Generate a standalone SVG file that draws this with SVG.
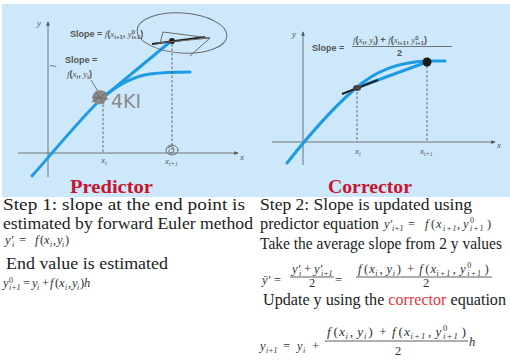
<svg xmlns="http://www.w3.org/2000/svg" width="510" height="363" viewBox="0 0 510 363">
<style>
.ax{stroke:#666;stroke-width:0.9;fill:none}
.cv{stroke:#1e9be2;stroke-width:3;fill:none;stroke-linecap:round}
.dash{stroke:#444;stroke-width:0.8;stroke-dasharray:2.5 2;fill:none}
.sk{stroke:#6a6a6a;stroke-width:1;fill:none;stroke-linecap:round;stroke-linejoin:round}
.gl{font-family:"Liberation Sans",Arial,sans-serif;font-size:9px;fill:#555;font-weight:bold}
.gi{font-family:"Liberation Serif",serif;font-style:italic;font-size:9px;fill:#555;font-weight:normal}
.gs{font-size:6px}
.tt{font-family:"Liberation Serif","Times New Roman",serif;font-size:17.5px;fill:#222}
.hd{font-family:"Liberation Serif","Times New Roman",serif;font-size:19px;font-weight:bold;fill:#c8142e}
.m{font-family:"Liberation Serif","Times New Roman",serif;font-style:italic;font-size:12.5px;fill:#333}
.r{font-style:normal}
.s{font-size:8px}
.fl{stroke:#333;stroke-width:0.8}
.hw{font-family:"DejaVu Sans",sans-serif;font-size:19px;fill:#8a8a8a}
</style>
<defs>
<marker id="ah" viewBox="0 0 6 6" refX="5" refY="3" markerWidth="5" markerHeight="5" orient="auto"><path d="M0,0.5 L6,3 L0,5.5 z" fill="#555"/></marker>
</defs>
<rect x="2" y="4" width="508" height="193" fill="#cde8fb"/>

<g id="predictor-graph">
<line class="ax" x1="48" y1="177" x2="48" y2="22" marker-end="url(#ah)"/>
<line class="ax" x1="18" y1="153" x2="238" y2="153" marker-end="url(#ah)"/>
<text class="gi" x="37" y="26">y</text>
<text class="gi" x="240" y="160">x</text>
<path class="cv" d="M32,176 C55,150 82,117 103,97 C118,85 135,76 150,74 C165,72 178,72 190,72"/>
<path class="cv" d="M100,100 L170,42"/>
<line class="dash" x1="103" y1="100" x2="103" y2="153"/>
<line class="dash" x1="172" y1="44" x2="172" y2="150"/>
<text class="gi" x="101" y="163">x<tspan class="gs" dy="1.5">i</tspan></text>
<text class="gi" x="165" y="164">x<tspan class="gs" dy="1.5">i+1</tspan></text>
<text class="gl" x="70" y="37">Slope = <tspan class="gi">f</tspan>(<tspan class="gi">x</tspan><tspan class="gs" dy="1.5">i+1</tspan><tspan dy="-1.5">, </tspan><tspan class="gi">y</tspan><tspan class="gs" dy="-3.5">0</tspan><tspan class="gs" dx="-3.5" dy="5">i+1</tspan><tspan dy="-1.5">)</tspan></text>
<text class="gl" x="65" y="63">Slope =</text>
<text class="gl" x="67" y="77"><tspan class="gi">f</tspan>(<tspan class="gi">x</tspan><tspan class="gs" dy="1.5">i</tspan><tspan dy="-1.5">, </tspan><tspan class="gi">y</tspan><tspan class="gs" dy="1.5">i</tspan><tspan dy="-1.5">)</tspan></text>
<line x1="91" y1="80" x2="99" y2="93" stroke="#555" stroke-width="0.8"/>
<line x1="152" y1="44" x2="205" y2="37" stroke="#222" stroke-width="2"/>
<circle cx="172" cy="41" r="3" fill="#222"/>
<path d="M95,92 C100,88 108,91 107,97 C106,104 99,106 95,103 C91,100 92,95 95,92 z" fill="#8a8a8a"/>
<path class="sk" d="M93,97 L108,99 M96,92 L104,104 M92,102 L106,93"/>
</g>

<g id="annotations" class="sk">
<ellipse cx="182" cy="33" rx="45" ry="20" transform="rotate(4 182 33)"/>
<path d="M160,43 L163,32 L210,38 L158,43 M210,38 L190,56"/>
<path d="M50,66 C52,64 54,68 56,66"/>
<ellipse cx="172" cy="150" rx="6" ry="5"/>
<path d="M168,148 C171,144 176,148 173,152 C170,155 167,151 170,149"/>
<text class="hw" x="111" y="108" stroke="none">4KI</text>
</g>

<g id="corrector-graph">
<line class="ax" x1="303" y1="165" x2="303" y2="32" marker-end="url(#ah)"/>
<line class="ax" x1="272" y1="142" x2="495" y2="142" marker-end="url(#ah)"/>
<text class="gi" x="292" y="37">y</text>
<text class="gi" x="497" y="148">x</text>
<path class="cv" d="M287,163 C310,134 335,106 356,88 C372,74 395,62 427,61 L445,61"/>
<path class="cv" d="M356,88 L427,62"/>
<line class="dash" x1="357" y1="92" x2="357" y2="142"/>
<line class="dash" x1="427" y1="66" x2="427" y2="142"/>
<text class="gi" x="355" y="154">x<tspan class="gs" dy="1.5">i</tspan></text>
<text class="gi" x="420" y="154">x<tspan class="gs" dy="1.5">i+1</tspan></text>
<line x1="342" y1="94" x2="378" y2="80" stroke="#222" stroke-width="2"/>
<ellipse cx="357" cy="88" rx="4" ry="3" fill="#444"/>
<circle cx="427" cy="62" r="4.5" fill="#1a1a1a"/>
<text class="gl" x="312" y="51" font-size="10" font-weight="normal">Slope =</text>
<text class="gl" x="353" y="43" font-size="8" font-weight="normal"><tspan class="gi" font-size="8">f</tspan>(<tspan class="gi" font-size="8">x</tspan><tspan class="gs" dy="1.5">i</tspan><tspan dy="-1.5">, </tspan><tspan class="gi" font-size="8">y</tspan><tspan class="gs" dy="1.5">i</tspan><tspan dy="-1.5">) + </tspan><tspan class="gi" font-size="8">f</tspan>(<tspan class="gi" font-size="8">x</tspan><tspan class="gs" dy="1.5">i+1</tspan><tspan dy="-1.5">, </tspan><tspan class="gi" font-size="8">y</tspan><tspan class="gs" dy="-3">0</tspan><tspan class="gs" dx="-3" dy="4.5">i+1</tspan><tspan dy="-1.5">)</tspan></text>
<line x1="352" y1="46.5" x2="452" y2="46.5" stroke="#555" stroke-width="0.8"/>
<text class="gl" x="397" y="56" font-weight="normal">2</text>
</g>

<g id="predictor-text">
<text class="hd" x="70" y="193" textLength="83" lengthAdjust="spacingAndGlyphs">Predictor</text>
<text class="tt" x="3" y="210" textLength="242" lengthAdjust="spacingAndGlyphs">Step 1: slope at the end point is</text>
<text class="tt" x="3" y="229" textLength="250" lengthAdjust="spacingAndGlyphs">estimated by forward Euler method</text>
<text class="m" font-size="11.5"><tspan x="5" y="244">y′</tspan><tspan class="s" x="12" y="247">i</tspan><tspan class="r" x="19" y="244">=</tspan><tspan x="35">f</tspan><tspan class="r" x="40">(</tspan><tspan x="44">x</tspan><tspan class="s" x="50" y="247">i</tspan><tspan class="r" x="53" y="244">,</tspan><tspan x="57">y</tspan><tspan class="s" x="62" y="247">i</tspan><tspan class="r" x="65" y="244">)</tspan></text>
<text class="tt" x="6" y="269" textLength="162" lengthAdjust="spacingAndGlyphs">End value is estimated</text>
<text class="m" font-size="11.5"><tspan x="3" y="287">y</tspan><tspan class="s r" x="9" y="283">0</tspan><tspan class="s" x="9" y="290">i+1</tspan><tspan class="r" x="23" y="287">=</tspan><tspan x="32">y</tspan><tspan class="s" x="37" y="290">i</tspan><tspan class="r" x="42" y="287">+</tspan><tspan x="50">f</tspan><tspan class="r" x="55">(</tspan><tspan x="59">x</tspan><tspan class="s" x="65" y="290">i</tspan><tspan class="r" x="68" y="287">,</tspan><tspan x="72">y</tspan><tspan class="s" x="77" y="290">i</tspan><tspan class="r" x="80" y="287">)</tspan><tspan x="84">h</tspan></text>
</g>

<g id="corrector-text">
<text class="hd" x="328" y="193" textLength="84" lengthAdjust="spacingAndGlyphs">Corrector</text>
<text class="tt" x="260" y="210" textLength="212" lengthAdjust="spacingAndGlyphs">Step 2: Slope is updated using</text>
<text class="tt" x="260" y="229" textLength="119" lengthAdjust="spacingAndGlyphs">predictor equation</text>
<text class="m"><tspan x="384" y="228">y′</tspan><tspan class="s" x="392" y="231">i+1</tspan><tspan class="r" x="408" y="228">=</tspan><tspan x="425">f</tspan><tspan class="r" x="431">(</tspan><tspan x="436">x</tspan><tspan class="s" x="443" y="231" letter-spacing="1">i+1</tspan><tspan class="r" x="457" y="228">,</tspan><tspan x="463">y</tspan><tspan class="s r" x="470" y="223">0</tspan><tspan class="s" x="470" y="231" letter-spacing="1">i+1</tspan><tspan class="r" x="487" y="228">)</tspan></text>
<text class="tt" x="260" y="249" font-size="16" textLength="242" lengthAdjust="spacingAndGlyphs">Take the average slope from 2 y values</text>

<text class="m"><tspan x="262" y="284">ȳ′</tspan><tspan class="r" x="274">=</tspan></text>
<text class="m"><tspan x="292" y="273">y′</tspan><tspan class="s" x="299" y="276">i</tspan><tspan class="r" x="304" y="273">+</tspan><tspan x="314">y′</tspan><tspan class="s" x="321" y="276">i+1</tspan></text>
<line class="fl" x1="290" y1="277" x2="334" y2="277"/>
<text class="m r" x="309" y="287">2</text>
<text class="m r" x="335" y="284">=</text>
<g transform="translate(358,273) scale(1.02,1)">
<text class="m"><tspan x="0" y="0">f</tspan><tspan class="r" x="6">(</tspan><tspan x="11">x</tspan><tspan class="s" x="17" y="3">i</tspan><tspan class="r" x="21" y="0">,</tspan><tspan x="28">y</tspan><tspan class="s" x="34" y="3">i</tspan><tspan class="r" x="38" y="0">)</tspan><tspan class="r" x="48">+</tspan><tspan x="60">f</tspan><tspan class="r" x="66">(</tspan><tspan x="71">x</tspan><tspan class="s" x="77" y="3" letter-spacing="1">i+1</tspan><tspan class="r" x="93" y="0">,</tspan><tspan x="100">y</tspan><tspan class="s r" x="107" y="-5">0</tspan><tspan class="s" x="107" y="3" letter-spacing="1">i+1</tspan><tspan class="r" x="124" y="0">)</tspan></text>
</g>
<line class="fl" x1="356" y1="277" x2="492" y2="277"/>
<text class="m r" x="423" y="287">2</text>

<text class="tt" x="263" y="305" font-size="16.5" textLength="243" lengthAdjust="spacingAndGlyphs">Update y using the <tspan fill="#e8383d">corrector</tspan> equation</text>

<text class="m"><tspan x="260" y="350">y</tspan><tspan class="s" x="266" y="353">i+1</tspan><tspan class="r" x="283" y="350">=</tspan><tspan x="297">y</tspan><tspan class="s" x="303" y="353">i</tspan><tspan class="r" x="312" y="350">+</tspan></text>
<g transform="translate(327,336) scale(1.085,1)">
<text class="m"><tspan x="0" y="0">f</tspan><tspan class="r" x="6">(</tspan><tspan x="11">x</tspan><tspan class="s" x="17" y="3">i</tspan><tspan class="r" x="21" y="0">,</tspan><tspan x="28">y</tspan><tspan class="s" x="34" y="3">i</tspan><tspan class="r" x="38" y="0">)</tspan><tspan class="r" x="48">+</tspan><tspan x="60">f</tspan><tspan class="r" x="66">(</tspan><tspan x="71">x</tspan><tspan class="s" x="77" y="3" letter-spacing="1">i+1</tspan><tspan class="r" x="93" y="0">,</tspan><tspan x="100">y</tspan><tspan class="s r" x="107" y="-5">0</tspan><tspan class="s" x="107" y="3" letter-spacing="1">i+1</tspan><tspan class="r" x="124" y="0">)</tspan></text>
</g>
<line class="fl" x1="325" y1="341" x2="468" y2="341"/>
<text class="m r" x="395" y="355">2</text>
<text class="m" x="469" y="346">h</text>
</g>
</svg>
